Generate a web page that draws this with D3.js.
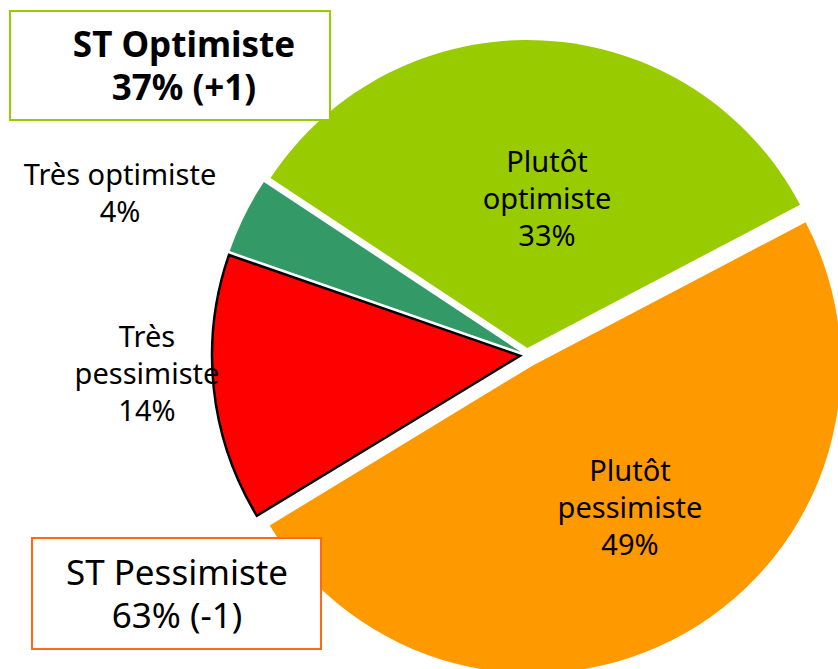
<!DOCTYPE html>
<html>
<head>
<meta charset="utf-8">
<script src="https://cdn.jsdelivr.net/npm/d3@7"></script>
<style>
  html, body { margin: 0; padding: 0; background: #fff; }
  svg { display: block; font-family: "Noto Sans", "Open Sans", sans-serif; }
</style>
</head>
<body>
<svg id="chart" width="838" height="669"></svg>
<script>
// Survey answers, in drawing order (clockwise)
const categories = ["Plutôt optimiste", "Plutôt pessimiste", "Très pessimiste", "Très optimiste"];
const labelLines = [["Plutôt", "optimiste"], ["Plutôt", "pessimiste"], ["Très", "pessimiste"], ["Très optimiste"]];
const values = [33, 49, 14, 4];
const colors = ["#99CC00", "#FF9900", "#FF0000", "#339966"];

// Summary boxes
const summaryTitles = ["ST Optimiste", "ST Pessimiste"];
const summaryValues = ["37% (+1)", "63% (-1)"];

const W = 838, H = 669;
const cx = 527, cy = 355, R = 308;
const explode = [7, 12, 7, 7];
const startDeg = -56.5;

const svg = d3.select("#chart");

const pie = d3.pie()
  .sort(null)
  .value(d => d)
  .startAngle(startDeg * Math.PI / 180)
  .endAngle((startDeg + 360) * Math.PI / 180);

const arc = d3.arc().innerRadius(0).outerRadius(R);
const arcs = pie(values);

const g = svg.append("g").attr("transform", `translate(${cx},${cy})`);

g.selectAll("path")
  .data(arcs)
  .join("path")
  .attr("transform", (d, i) => {
    const a = (d.startAngle + d.endAngle) / 2;
    return `translate(${Math.sin(a) * explode[i]},${-Math.cos(a) * explode[i]})`;
  })
  .attr("d", arc)
  .attr("fill", (d, i) => colors[i])
  .attr("stroke", (d, i) => i === 2 ? "#000" : "none")
  .attr("stroke-width", (d, i) => i === 2 ? 2.5 : 0)
  .attr("stroke-linejoin", "miter");

// Slice labels: [x of centre, baseline of first line]
const labelAt = [[547, 172], [630, 481], [147, 347], [120, 185]];
const lh = 37;

arcs.forEach((d, i) => {
  const lines = labelLines[i].concat([d.data + "%"]);
  const t = svg.append("text")
    .attr("text-anchor", "middle")
    .attr("font-size", 29)
    .attr("fill", "#000");
  lines.forEach((s, k) => {
    t.append("tspan")
      .attr("x", labelAt[i][0])
      .attr("y", labelAt[i][1] + k * lh)
      .text(s);
  });
});

// Summary boxes drawn on top of the pie
const boxes = [
  { x: 10, y: 11, w: 320, h: 109, stroke: "#99CC00", bold: true, tx: 184, ty: 57 },
  { x: 32, y: 538, w: 289, h: 111, stroke: "#FF6A13", bold: false, tx: 177, ty: 585 }
];

boxes.forEach((b, i) => {
  svg.append("rect")
    .attr("x", b.x).attr("y", b.y)
    .attr("width", b.w).attr("height", b.h)
    .attr("fill", "#fff")
    .attr("stroke", b.stroke)
    .attr("stroke-width", 2);
  const t = svg.append("text")
    .attr("text-anchor", "middle")
    .attr("font-size", 35)
    .attr("font-weight", b.bold ? "bold" : "normal")
    .attr("fill", "#000");
  t.append("tspan").attr("x", b.tx).attr("y", b.ty).text(summaryTitles[i]);
  t.append("tspan").attr("x", b.tx).attr("y", b.ty + 43).text(summaryValues[i]);
});
</script>
</body>
</html>
